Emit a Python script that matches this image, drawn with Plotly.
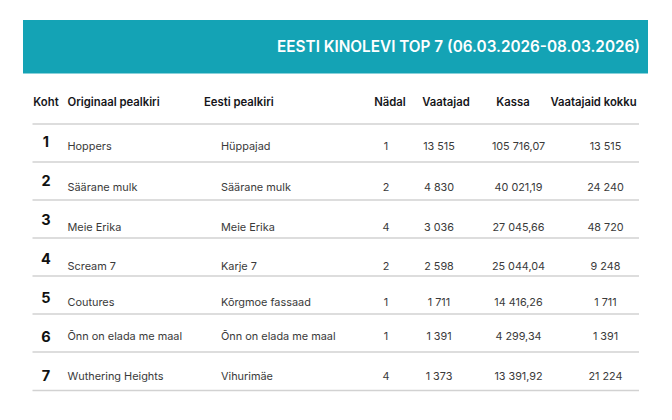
import plotly.graph_objects as go

TITLE = "EESTI KINOLEVI TOP 7 (06.03.2026-08.03.2026)"

HEADERS = ["Koht", "Originaal pealkiri", "Eesti pealkiri", "Nädal", "Vaatajad", "Kassa", "Vaatajaid kokku"]

ranks = ["1", "2", "3", "4", "5", "6", "7"]
original_titles = ["Hoppers", "Säärane mulk", "Meie Erika", "Scream 7", "Coutures", "Õnn on elada me maal", "Wuthering Heights"]
estonian_titles = ["Hüppajad", "Säärane mulk", "Meie Erika", "Karje 7", "Kõrgmoe fassaad", "Õnn on elada me maal", "Vihurimäe"]
weeks = ["1", "2", "4", "2", "1", "1", "4"]
viewers = ["13 515", "4 830", "3 036", "2 598", "1 711", "1 391", "1 373"]
box_office = ["105 716,07", "40 021,19", "27 045,66", "25 044,04", "14 416,26", "4 299,34", "13 391,92"]
viewers_total = ["13 515", "24 240", "48 720", "9 248", "1 711", "1 391", "21 224"]

# page layout, in pixels of the 672x420 picture (the page body keeps its 8px margin)
FONT = "Inter"
RANK_Y = [143, 182, 221, 260.5, 299.5, 338.5, 377.5]
ROW_Y = [147, 188.5, 228, 267.5, 303.5, 337.5, 377.5]
LINE_Y = [124, 162, 200, 238, 276, 314, 352, 390.5]
HEADER_Y = 103.5
HEADER_X = [46, 67.5, 204, 390, 446, 513, 593.5]
HEADER_POS = ["middle center", "middle right", "middle right", "middle center", "middle center", "middle center", "middle center"]

fig = go.Figure()


def add_text(x, y, text, size, color, position="middle center", weight="normal"):
    fig.add_trace(
        go.Scatter(
            x=x,
            y=y,
            text=text,
            mode="text",
            textposition=position,
            textfont=dict(family=FONT, size=size, color=color, weight=weight),
            hoverinfo="skip",
            showlegend=False,
            cliponaxis=False,
        )
    )


add_text(HEADER_X, [HEADER_Y] * 7, HEADERS, 11.3, "#16161a", HEADER_POS, weight=600)
add_text([46] * 7, RANK_Y, ranks, 14.5, "#111111", weight=700)
add_text([67.5] * 7, ROW_Y, original_titles, 10.9, "#3a3a3a", "middle right")
add_text([221] * 7, ROW_Y, estonian_titles, 10.9, "#3a3a3a", "middle right")
add_text([386] * 7, ROW_Y, weeks, 10.8, "#3a3a3a")
add_text([439] * 7, ROW_Y, viewers, 10.8, "#3a3a3a")
add_text([518.5] * 7, ROW_Y, box_office, 10.8, "#3a3a3a")
add_text([605.5] * 7, ROW_Y, viewers_total, 10.8, "#3a3a3a")
add_text([640], [48], [TITLE], 15.3, "#ffffff", "middle left", weight=600)

fig.add_shape(type="rect", x0=23, x1=648, y0=20, y1=73.5, fillcolor="#14a3b5", line_width=0, layer="below")
for y in LINE_Y:
    fig.add_shape(type="line", x0=32.5, x1=639, y0=y, y1=y, line=dict(color="#d2d2d2", width=1.5), layer="below")

fig.update_layout(
    width=664,
    height=404,
    margin=dict(l=0, r=0, t=0, b=0),
    paper_bgcolor="white",
    plot_bgcolor="white",
    xaxis=dict(range=[8, 672], visible=False, fixedrange=True),
    yaxis=dict(range=[412, 8], visible=False, fixedrange=True),
)

fig.write_html("out.html", config={"displayModeBar": False})
